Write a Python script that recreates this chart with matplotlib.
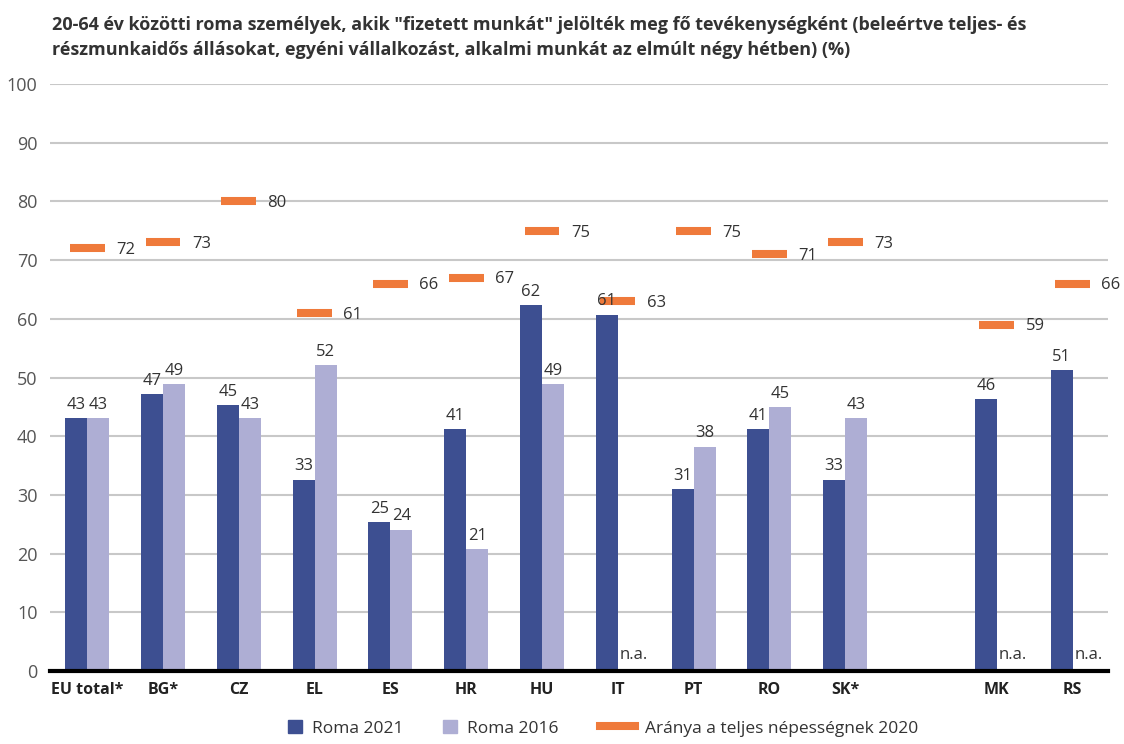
import matplotlib.pyplot as plt
import numpy as np
from matplotlib.patches import Patch
from matplotlib.lines import Line2D

plt.rcParams['font.family'] = ['Open Sans', 'DejaVu Sans']

# data
countries = ['EU total*', 'BG*', 'CZ', 'EL', 'ES', 'HR', 'HU', 'IT', 'PT', 'RO', 'SK*', 'MK', 'RS']
slots = [0, 1, 2, 3, 4, 5, 6, 7, 8, 9, 10, 12, 13]   # gap before MK
roma_2021 = [43.1, 47.2, 45.3, 32.6, 25.4, 41.2, 62.3, 60.7, 31.0, 41.2, 32.6, 46.3, 51.2]
roma_2016 = [43.1, 48.9, 43.1, 52.1, 24.1, 20.8, 48.9, None, 38.2, 45.0, 43.1, None, None]
general_2020 = [72, 73, 80, 61, 66, 67, 75, 63, 75, 71, 73, 59, 66]

c21 = '#3d4f91'
c16 = '#aeaed4'
corange = '#ef7a3b'
txt = '#333333'

fig = plt.figure(figsize=(11.24, 7.44), dpi=100)
ax = fig.add_axes([0.0445, 0.0981, 0.9415, 0.789])

x = np.array(slots, dtype=float)
w = 0.29

ax.bar(x - w/2, roma_2021, width=w, color=c21, zorder=3)
v16 = [v if v is not None else 0 for v in roma_2016]
ax.bar(x + w/2, v16, width=w, color=c16, zorder=3)

for xi, v in zip(x, roma_2021):
    ax.text(xi - w/2, v + 0.9, f'{round(v)}', ha='center', va='bottom', fontsize=12, color=txt, zorder=5)
for xi, v in zip(x, roma_2016):
    if v is None:
        ax.text(xi + 0.03, 1.3, 'n.a.', ha='left', va='bottom', fontsize=12, color=txt, zorder=5)
    else:
        ax.text(xi + w/2, v + 0.9, f'{round(v)}', ha='center', va='bottom', fontsize=12, color=txt, zorder=5)

# orange dashes for general population
for xi, v in zip(x, general_2020):
    ax.plot([xi - 0.23, xi + 0.23], [v, v], color=corange, lw=5.8, solid_capstyle='butt', zorder=4)
    ax.text(xi + 0.38, v - 0.3, f'{v}', ha='left', va='center', fontsize=12, color=txt, zorder=5)

ax.set_ylim(0, 100)
ax.set_xlim(-0.49, 13.47)
ax.set_yticks(np.arange(0, 101, 10))
ax.yaxis.grid(True, color='#c8c8c8', lw=1.5, zorder=0)
ax.set_axisbelow(True)
for s in ['top', 'right', 'left']:
    ax.spines[s].set_visible(False)
ax.spines['bottom'].set_color('black')
ax.spines['bottom'].set_linewidth(3)
ax.spines['bottom'].set_zorder(6)
ax.tick_params(axis='y', length=0, labelsize=13, labelcolor='#555555', pad=9)
ax.tick_params(axis='x', length=0, labelsize=11.5, pad=8)
ax.set_xticks(x)
ax.set_xticklabels(countries, fontweight='bold', color='#222222')

fig.text(0.046, 0.978, '20-64 év közötti roma személyek, akik "fizetett munkát" jelölték meg fő tevékenységként (beleértve teljes- és\n'
         'részmunkaidős állásokat, egyéni vállalkozást, alkalmi munkát az elmúlt négy hétben) (%)',
         ha='left', va='top', fontsize=13, fontweight='bold', color='#333333', linespacing=1.45)

# legend, one item at a time
items = [
    (Patch(color=c21), 'Roma 2021', 0.256, 0.8),
    (Patch(color=c16), 'Roma 2016', 0.394, 0.8),
    (Line2D([0], [0], color=corange, lw=5.8), 'Aránya a teljes népességnek 2020', 0.534, 2.0),
]
for h, lab, xpos, hl in items:
    leg = fig.legend([h], [lab], loc='center left', bbox_to_anchor=(xpos, 0.021), frameon=False,
                     fontsize=12.5, handlelength=hl, handleheight=0.8, borderpad=0, borderaxespad=0,
                     handletextpad=0.6)
    for t in leg.get_texts():
        t.set_color('#333333')

plt.savefig('out.png', dpi=100)
